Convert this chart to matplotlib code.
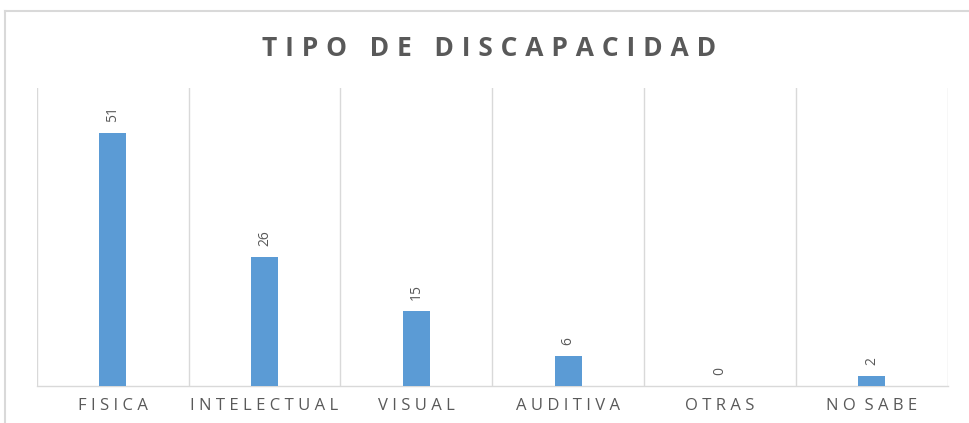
import matplotlib
matplotlib.use("Agg")
import matplotlib.pyplot as plt
import numpy as np
from matplotlib.lines import Line2D

categorias = ["FISICA", "INTELECTUAL", "VISUAL", "AUDITIVA", "OTRAS", "NO SABE"]
valores = [51, 26, 15, 6, 0, 2]
titulo = "TIPO DE DISCAPACIDAD"

azul = "#5B9BD5"
gris = "#595959"
linea = "#D9D9D9"


def espaciar(texto, sep=" ", sep_palabra="  "):
    # simula el espaciado de letras de Excel
    return sep_palabra.join(sep.join(p) for p in texto.split(" "))


plt.rcParams["font.family"] = ["Open Sans", "DejaVu Sans"]

fig = plt.figure(figsize=(9.7, 4.23), dpi=100)
ax = fig.add_axes([0.038, 0.0875, 0.939, 0.7045])

x = np.arange(len(categorias))
barras = ax.bar(x, valores, width=0.18, color=azul, zorder=3)

for xi, v in zip(x, valores):
    ax.annotate(str(v), (xi, v), xytext=(0, 8), textcoords="offset points",
                rotation=90, ha="center", va="bottom", fontsize=10, color=gris)

ax.set_xlim(-0.5, len(categorias) - 0.5)
ax.set_ylim(0, 60)
ax.set_yticks([])
ax.set_xticks(x)
ax.set_xticklabels([espaciar(c) for c in categorias], fontsize=12, color=gris)
ax.set_xticks(np.arange(-0.5, len(categorias)), minor=True)
ax.tick_params(axis="x", which="both", length=0, pad=9)
ax.grid(axis="x", which="minor", color=linea, linewidth=1, zorder=0)

for lado in ["top", "right", "left"]:
    ax.spines[lado].set_visible(False)
ax.spines["bottom"].set_color(linea)
ax.spines["bottom"].set_linewidth(1)

sep_letra = "\u2009\u200a"
fig.text(0.5046, 0.886, espaciar(titulo, sep_letra, sep_letra + " " + sep_letra),
         ha="center", va="center", fontsize=19, fontweight="bold", color=gris)

# marco del gráfico
fig.add_artist(Line2D([5 / 970, 1], [1 - 11 / 423, 1 - 11 / 423], color=linea, linewidth=1.5))
fig.add_artist(Line2D([5 / 970, 5 / 970], [0, 1 - 11 / 423], color=linea, linewidth=1.5))

fig.savefig("out.png", dpi=100)
